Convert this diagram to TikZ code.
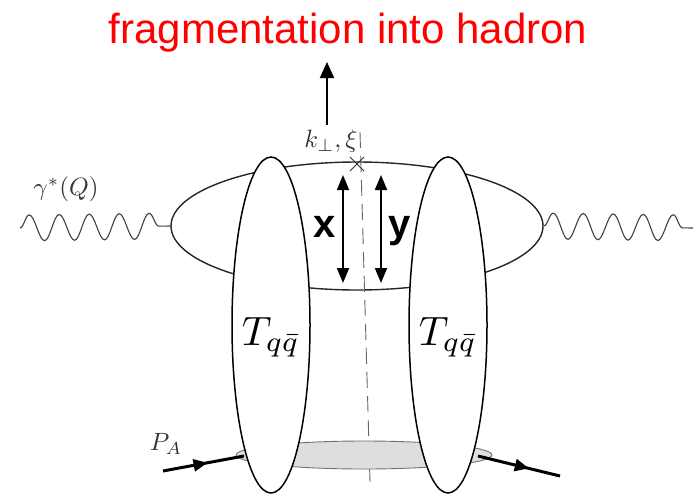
\documentclass[tikz,border=0pt]{standalone}
\usepackage{fontspec}
\newfontfamily\arialfont{Liberation Sans}
\usetikzlibrary{shapes.geometric,shapes.misc,arrows.meta,decorations.pathmorphing,decorations.markings}
\begin{document}
\begin{tikzpicture}[x=1pt,y=-1pt,
  loopbox/.style={draw=black!85,ellipse,inner sep=0pt,line width=1.4pt},
  tallblob/.style={draw=black,fill=white,ellipse,inner sep=0pt,line width=1.5pt,minimum width=78pt,minimum height=336pt},
  graydisk/.style={draw=black!55,fill=black!13,ellipse,inner sep=0pt,line width=0.9pt,minimum width=256pt,minimum height=28pt},
  photon/.style={draw=black!75,line width=1.1pt,decorate,decoration={snake,segment length=30pt,amplitude=13pt}},
  dblarrow/.style={{Triangle[length=15pt,width=12pt]}-{Triangle[length=15pt,width=12pt]},line width=1.8pt},
  momarrow/.style={line width=3pt,postaction={decorate},decoration={markings,mark=at position #1 with {\arrow{Triangle[length=14pt,width=12pt]}}}},
  mathlab/.style={scale=2.5,text=black!80,inner sep=0pt},
  biglab/.style={scale=4.1,inner sep=0pt},
  xylab/.style={font=\arialfont\bfseries\fontsize{40}{48}\selectfont,anchor=base},
]
\useasboundingbox (0,0) rectangle (695,493);

% title
\node[font=\arialfont\fontsize{42}{50}\selectfont,text=red,anchor=base] (title) at (348,43) {fragmentation into hadron};

% upper loop
\node[loopbox,minimum width=372pt,minimum height=128pt] (loop) at (357,226) {};

% photons
\coordinate (phL) at (20,228);
\coordinate (phR) at (693,228);
\draw[photon] (phL) -- (loop.west);
\draw[photon] (loop.east) -- (phR);

% dashed cut line
\coordinate (dtop) at (360,132);
\coordinate (dbot) at (370,482);
\draw[draw=black!60,line width=0.9pt,dash pattern=on 16pt off 8pt] (dtop) -- (dbot);

% lower gray disk
\node[graydisk] (disk) at (364,455) {};

% momentum lines P_A
\coordinate (pain) at (163,471);
\coordinate (paend) at (244,456);
\coordinate (pbst) at (478,456);
\coordinate (pbout) at (560,476);
\draw[momarrow=0.55] (pain) -- (paend);
\draw[momarrow=0.62] (pbst) -- (pbout);

% tall blobs
\node[tallblob] (TL) at (271,325) {};
\node[tallblob] (TR) at (448,325) {};
\node[biglab] (TLlab) at (271,337) {$T_{q\bar q}$};
\node[biglab] (TRlab) at (448,337) {$T_{q\bar q}$};

% cross and upward arrow
\node[cross out,draw=black!80,line width=1pt,minimum size=13pt,inner sep=0pt] (cut) at (357,164) {};
\coordinate (upS) at (327,125);
\coordinate (upE) at (327,62);
\draw[-{Triangle[length=16pt,width=14pt]},line width=2pt] (upS) -- (upE);

% double arrows
\coordinate (xa) at (343,175);
\coordinate (xb) at (343,283);
\coordinate (ya) at (381,175);
\coordinate (yb) at (381,283);
\draw[dblarrow] (xa) -- (xb);
\draw[dblarrow] (ya) -- (yb);
\node[xylab] (xl) at (325,237) {x};
\node[xylab] (yl) at (400,237) {y};

% labels
\node[mathlab] (kl) at (331,141) {$k_\perp,\xi$};
\node[mathlab] (gl) at (66,189) {$\gamma^*(Q)$};
\node[mathlab] (pl) at (166,444) {$P_A$};
\end{tikzpicture}
\end{document}
